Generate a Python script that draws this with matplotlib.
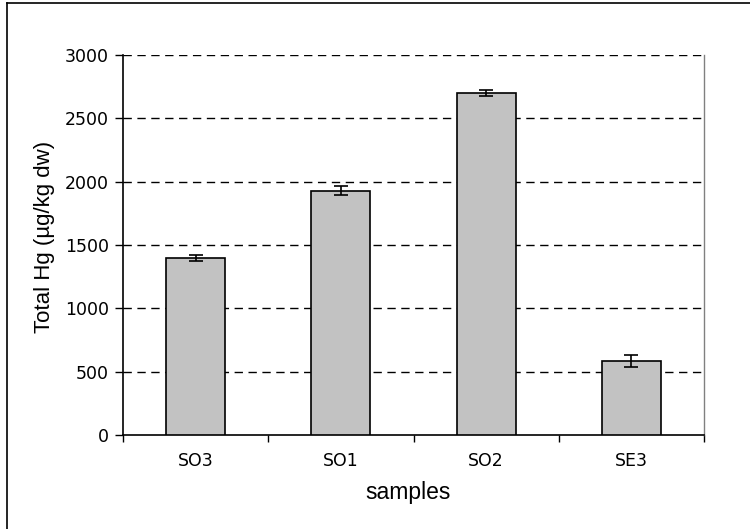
import numpy as np
import matplotlib.pyplot as plt
from matplotlib.lines import Line2D

# data
samples = ['SO3', 'SO1', 'SO2', 'SE3']
total_hg = [1397, 1929, 2702, 584]
hg_err = [26, 38, 25, 47]

fig = plt.figure(figsize=(7.5, 5.29), dpi=100)
ax = fig.add_axes([123 / 750, 1 - 435 / 529, (704 - 123) / 750, (435 - 55) / 529])

x = np.arange(len(samples))
ax.bar(x, total_hg, width=0.405, color='#c2c2c2', edgecolor='black', linewidth=1.2, zorder=3)
ax.errorbar(x, total_hg, yerr=hg_err, fmt='none', ecolor='black', elinewidth=1.2,
            capsize=5, capthick=1.2, zorder=4)

ax.set_xlim(-0.5, len(samples) - 0.5)
ax.set_ylim(0, 3000)
ax.set_yticks(np.arange(0, 3001, 500))
ax.set_xticks(x)
ax.set_xticklabels(samples, family='DejaVu Sans', fontsize=12.5)
ax.set_xticks(np.arange(-0.5, len(samples), 1), minor=True)
ax.tick_params(axis='x', which='major', length=0, pad=12)
ax.tick_params(axis='x', which='minor', length=5, direction='out', width=1)
ax.tick_params(axis='y', length=6, direction='out', width=1, labelsize=12.5, pad=4)
for lab in ax.get_yticklabels():
    lab.set_family('DejaVu Sans')

# dashed gridlines
for yv in np.arange(500, 3001, 500):
    ax.axhline(yv, color='black', linestyle=(0, (6, 4)), linewidth=1, zorder=1)

ax.spines['left'].set_linewidth(1.2)
ax.spines['bottom'].set_linewidth(1.2)
ax.spines['right'].set_color('#808080')
ax.spines['right'].set_linewidth(1)
ax.spines['top'].set_visible(False)

ax.set_ylabel('Total Hg (µg/kg dw)', family='Liberation Sans', fontsize=16)
ax.set_xlabel('samples', family='Liberation Sans', fontsize=16.5)
ax.yaxis.set_label_coords(-0.117, 0.52)
ax.xaxis.set_label_coords(0.49, -0.122)

# outer chart border (left and top visible)
fig.add_artist(Line2D([7 / 750, 7 / 750], [0, 1 - 3 / 529], color='black', linewidth=1.2,
                      transform=fig.transFigure))
fig.add_artist(Line2D([7 / 750, 1], [1 - 3 / 529, 1 - 3 / 529], color='black', linewidth=1.2,
                      transform=fig.transFigure))

fig.savefig('out.png', dpi=100)
